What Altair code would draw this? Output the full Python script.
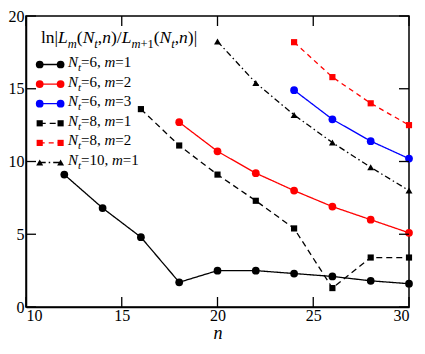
import altair as alt
import pandas as pd

# ---------------- data ----------------
series_names = ["Nt=6, m=1", "Nt=6, m=2", "Nt=6, m=3", "Nt=8, m=1", "Nt=8, m=2", "Nt=10, m=1"]

nt6_m1_n = [12, 14, 16, 18, 20, 22, 24, 26, 28, 30]
nt6_m1_v = [9.1, 6.8, 4.8, 1.7, 2.5, 2.5, 2.3, 2.1, 1.8, 1.6]

nt6_m2_n = [18, 20, 22, 24, 26, 28, 30]
nt6_m2_v = [12.7, 10.7, 9.2, 8.0, 6.9, 6.0, 5.1]

nt6_m3_n = [24, 26, 28, 30]
nt6_m3_v = [14.9, 12.9, 11.4, 10.2]

nt8_m1_n = [16, 18, 20, 22, 24, 26, 28, 30]
nt8_m1_v = [13.6, 11.1, 9.1, 7.3, 5.4, 1.3, 3.4, 3.4]

nt8_m2_n = [24, 26, 28, 30]
nt8_m2_v = [18.2, 15.8, 14.0, 12.5]

nt10_m1_n = [20, 22, 24, 26, 28, 30]
nt10_m1_v = [18.25, 15.4, 13.2, 11.3, 9.6, 8.0]

x_ticks = [10, 15, 20, 25, 30]
y_ticks = [0, 5, 10, 15, 20]

# ---------------- styles ----------------
colors = ["#000000", "#ff0000", "#0000ff", "#000000", "#ff0000", "#000000"]
shapes = ["circle", "circle", "circle", "square", "square", "triangle-up"]
dashes = [[1, 0], [1, 0], [1, 0], [6, 4], [5, 4], [6, 3, 1.5, 3]]
sizes = {"circle": 60, "square": 38, "triangle-up": 48}

rows = []
for name, ns, vs in zip(series_names,
                        [nt6_m1_n, nt6_m2_n, nt6_m3_n, nt8_m1_n, nt8_m2_n, nt10_m1_n],
                        [nt6_m1_v, nt6_m2_v, nt6_m3_v, nt8_m1_v, nt8_m2_v, nt10_m1_v]):
    for n, v in zip(ns, vs):
        rows.append({"series": name, "n": n, "v": v})
df = pd.DataFrame(rows)

W, H = 383, 291
FONT = "Liberation Serif, Times New Roman, Times, serif"

xs = alt.Scale(domain=[10, 30], nice=False, zero=False)
ys = alt.Scale(domain=[0, 20], nice=False, zero=False)

base = alt.Chart(df)
lines = base.mark_line(strokeWidth=1.3).encode(
    x=alt.X("n:Q", scale=xs,
            axis=alt.Axis(values=x_ticks, ticks=False, grid=False, labelFont=FONT,
                          labelFontSize=16, labelPadding=0, labelColor="black",
                          domainColor="black", domainWidth=1.5,
                          titleFont=FONT, titleFontSize=18, titleFontStyle="italic",
                          titleFontWeight="normal", titleColor="black",
                          titleBaseline="alphabetic", titleY=31),
            title="n"),
    y=alt.Y("v:Q", scale=ys,
            axis=alt.Axis(values=y_ticks, ticks=False, grid=False, labelFont=FONT,
                          labelFontSize=16, labelPadding=2, labelColor="black",
                          domainColor="black", domainWidth=1.5),
            title=None),
    color=alt.Color("series:N", scale=alt.Scale(domain=series_names, range=colors), legend=None),
    strokeDash=alt.StrokeDash("series:N", scale=alt.Scale(domain=series_names, range=dashes), legend=None),
    detail="series:N",
)

points_layers = []
for shp in ["circle", "square", "triangle-up"]:
    names = [s for s, sh in zip(series_names, shapes) if sh == shp]
    points_layers.append(
        base.transform_filter(alt.FieldOneOfPredicate(field="series", oneOf=names))
        .mark_point(filled=True, opacity=1, size=sizes[shp], shape=shp)
        .encode(
            x=alt.X("n:Q", scale=xs),
            y=alt.Y("v:Q", scale=ys),
            color=alt.Color("series:N", scale=alt.Scale(domain=series_names, range=colors), legend=None),
        )
    )

# inward ticks on all four sides
xt = pd.DataFrame({"t": x_ticks})
yt = pd.DataFrame({"t": y_ticks})
tick_style = dict(color="black", strokeWidth=1.3)
TL = 10
tb = alt.Chart(xt).mark_rule(**tick_style).encode(
    x=alt.X("t:Q", scale=xs), y=alt.value(H), y2=alt.value(H - TL))
tt = alt.Chart(xt).mark_rule(**tick_style).encode(
    x=alt.X("t:Q", scale=xs), y=alt.value(0), y2=alt.value(TL))
tl = alt.Chart(yt).mark_rule(**tick_style).encode(
    y=alt.Y("t:Q", scale=ys), x=alt.value(0), x2=alt.value(TL))
tr = alt.Chart(yt).mark_rule(**tick_style).encode(
    y=alt.Y("t:Q", scale=ys), x=alt.value(W), x2=alt.value(W - TL))

main = alt.layer(lines, *points_layers, tb, tt, tl, tr)

# ---------------- hand-built legend (pixel positions in plot area) ----------------
REG_W = {"l": 278, "n": 500, "|": 200, "(": 333, ")": 333, ",": 250, "/": 278,
         "=": 564, "+": 564, " ": 250}
REG_W.update({d: 500 for d in "0123456789"})
IT_W = {"L": 556, "N": 667, "t": 278, "n": 500, "m": 722}


def seg_width(s, italic, size):
    tab = IT_W if italic else REG_W
    return sum(tab.get(c, 500) for c in s) * size / 1000.0


def build(segs, x0, baseline, main_size, sub_size, sub_off):
    out = []
    x = x0
    for s, italic, sub in segs:
        size = sub_size if sub else main_size
        out.append({"x": x, "y": baseline + (sub_off if sub else 0), "s": s,
                    "kind": ("i" if italic else "r") + ("s" if sub else "m")})
        x += seg_width(s, italic, size)
    return out


TITLE_M, TITLE_S = 17.5, 12.5
ENTRY_M, ENTRY_S = 15, 11

text_rows = []
title_segs = [("ln|", False, False), ("L", True, False), ("m", True, True), ("(", False, False),
              ("N", True, False), ("t", True, True), (",", False, False), ("n", True, False),
              (")/", False, False), ("L", True, False), ("m", True, True), ("+1", False, True),
              ("(", False, False), ("N", True, False), ("t", True, True), (",", False, False),
              ("n", True, False), (")|", False, False)]
text_rows += [dict(r, grp="title") for r in build(title_segs, 15.0, 26.8, TITLE_M, TITLE_S, 5)]

leg_nt = ["6", "6", "6", "8", "8", "10"]
leg_m = ["1", "2", "3", "1", "2", "1"]
row_y = [48.5 + 19.6 * i for i in range(6)]
sym_x0, sym_x1, txt_x = 13.7, 34.6, 42.0
for i in range(6):
    segs = [("N", True, False), ("t", True, True), ("=" + leg_nt[i] + ", ", False, False),
            ("m", True, False), ("=" + leg_m[i], False, False)]
    text_rows += [dict(r, grp="entry") for r in build(segs, txt_x, row_y[i] + 2.5, ENTRY_M, ENTRY_S, 4)]
tdf = pd.DataFrame(text_rows)

text_layers = []
for grp, msize, ssize in [("title", TITLE_M, TITLE_S), ("entry", ENTRY_M, ENTRY_S)]:
    for kind in ["rm", "im", "rs", "is"]:
        sub = tdf[(tdf["grp"] == grp) & (tdf["kind"] == kind)]
        if len(sub) == 0:
            continue
        text_layers.append(
            alt.Chart(sub).mark_text(align="left", baseline="alphabetic", font=FONT,
                                     fontSize=ssize if kind.endswith("s") else msize,
                                     fontStyle="italic" if kind.startswith("i") else "normal",
                                     color="black")
            .encode(x=alt.X("x:Q", scale=None, axis=None),
                    y=alt.Y("y:Q", scale=None, axis=None),
                    text="s:N")
        )

leg_line_layers = []
for i in range(6):
    ldf = pd.DataFrame({"x": [sym_x0], "x2": [sym_x1], "y": [row_y[i]]})
    leg_line_layers.append(
        alt.Chart(ldf).mark_rule(strokeWidth=1.3, color=colors[i], strokeDash=dashes[i])
        .encode(x=alt.X("x:Q", scale=None, axis=None), x2="x2:Q",
                y=alt.Y("y:Q", scale=None, axis=None))
    )

leg_pts = []
for i in range(6):
    for xx in (sym_x0, sym_x1):
        leg_pts.append({"x": xx, "y": row_y[i], "shape": shapes[i], "color": colors[i]})
lpdf = pd.DataFrame(leg_pts)
leg_point_layers = []
for shp in ["circle", "square", "triangle-up"]:
    leg_point_layers.append(
        alt.Chart(lpdf[lpdf["shape"] == shp]).mark_point(filled=True, opacity=1, size=sizes[shp], shape=shp)
        .encode(x=alt.X("x:Q", scale=None, axis=None),
                y=alt.Y("y:Q", scale=None, axis=None),
                color=alt.Color("color:N", scale=None))
    )

legend = alt.layer(*leg_line_layers, *leg_point_layers, *text_layers)

chart = alt.layer(main, legend).resolve_scale(x="independent", y="independent").properties(
    width=W, height=H,
    autosize=alt.AutoSizeParams(type="none"),
    padding={"left": 18, "top": 8, "right": 8, "bottom": 35},
).configure_view(stroke="black", strokeWidth=1.5)

chart.save("out.html", embed_options={"renderer": "svg", "actions": False})
